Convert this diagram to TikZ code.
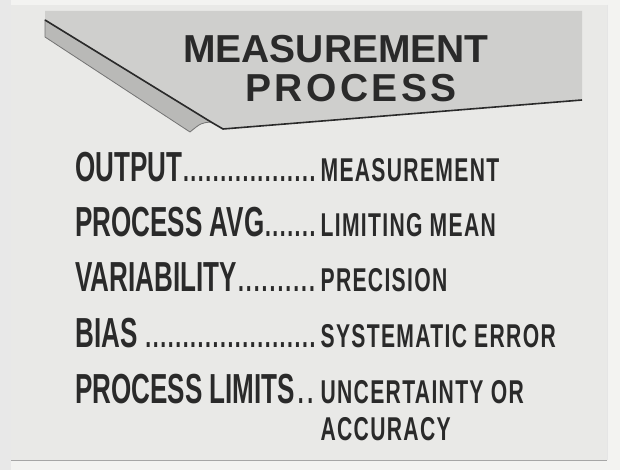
\documentclass[tikz,border=0pt]{standalone}
\usepackage{fontspec}
\setmainfont{Liberation Sans}
\newfontfamily\termfont[FakeStretch=0.62]{Liberation Sans}
\newfontfamily\valfont[FakeStretch=0.64,LetterSpace=4]{Liberation Sans}
\usetikzlibrary{positioning}
\definecolor{paper}{HTML}{F3F3F1}
\definecolor{board}{HTML}{E9E9E7}
\definecolor{bannergray}{HTML}{CFCFCD}
\definecolor{foldgray}{HTML}{B9B9B7}
\definecolor{ink}{HTML}{2A2A2A}
\newcommand{\dotrun}{{\valfont\bfseries\fontsize{33}{33}\selectfont\xleaders\hbox to 7.4pt{\hss.\hss}\hfill}}
\tikzstyle{title}=[inner sep=0pt,anchor=base,text=ink,font=\bfseries\fontsize{39}{39}\selectfont]
\tikzstyle{term}=[inner sep=0pt,anchor=base west,text=ink,font=\termfont\bfseries\fontsize{42}{42}\selectfont]
\tikzstyle{value}=[inner sep=0pt,anchor=base west,text=ink,font=\valfont\bfseries\fontsize{33}{33}\selectfont]
\tikzstyle{banner}=[fill=bannergray]
\tikzstyle{fold}=[fill=foldgray,draw=black!55,line width=0.8pt]

\begin{document}
\begin{tikzpicture}[x=1pt,y=-1pt]
  \useasboundingbox (0,0) rectangle (620,470);
  \fill[paper] (0,0) rectangle (620,470);
  \fill[black!9] (0,0) rectangle (11,470);
  \fill[board] (11,5) rectangle (607,460);
  \draw[black!35,line width=1pt] (11,460) -- (607,460);
  \draw[black!10,line width=0.8pt] (607,5) -- (607,460);

  \coordinate (bl) at (45,20);
  \coordinate (bn) at (211,122);
  \coordinate (bk) at (223,129);
  \coordinate (br) at (582,100);
  \coordinate (fl) at (45,37);
  \coordinate (ft) at (190,132);

  \fill[banner] (45,11) -- (582,11) -- (br) -- (bk) -- (bn) -- (bl) -- cycle;
  \fill[fold] (bl) -- (bn) .. controls (201,123) .. (ft) -- (fl) -- cycle;
  \draw[ink,line width=1.6pt] (bl) -- (bn) -- (bk) -- (br);

  \node[title] (meas) at (336,63) {MEASUREMENT};
  \node[title] (proc) at (351,102) {P\kern3.5pt R\kern3.5pt O\kern3.5pt C\kern3.5pt E\kern3.5pt S\kern3.5pt S};

  \node[term] (output) at (75,182) {\makebox[241pt][l]{OUTPUT\dotrun}};
  \node[term] (avg) at (75,236) {\makebox[241pt][l]{PROCESS AVG\dotrun}};
  \node[term] (vari) at (75,291) {\makebox[241pt][l]{VARIABILITY\dotrun}};
  \node[term] (bias) at (75,347) {\makebox[241pt][l]{BIAS \dotrun}};
  \node[term] (limits) at (75,403) {\makebox[241pt][l]{PROCESS LIMITS\dotrun}};

  \node[value] (outputv) at ([xshift=4pt]output.base east) {MEASUREMENT};
  \node[value] (avgv) at ([xshift=4pt]avg.base east) {LIMITING MEAN};
  \node[value] (variv) at ([xshift=4pt]vari.base east) {PRECISION};
  \node[value] (biasv) at ([xshift=4pt]bias.base east) {SYSTEMATIC ERROR};
  \node[value] (limitsv) at ([xshift=4pt]limits.base east) {UNCERTAINTY OR};
  \node[value] (accv) at ([yshift=-37pt]limitsv.base west) {ACCURACY};
\end{tikzpicture}
\end{document}
